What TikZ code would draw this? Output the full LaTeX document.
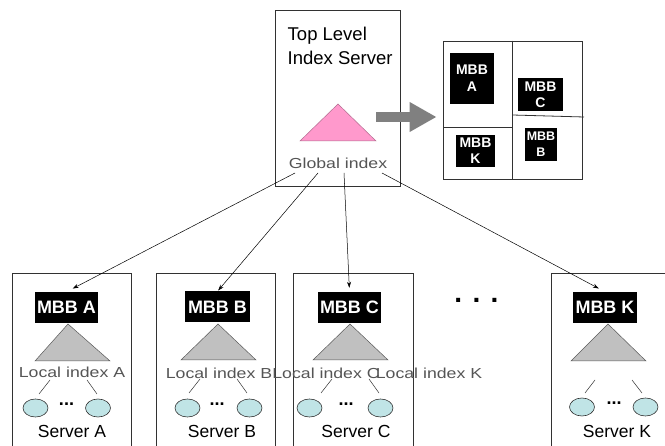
\documentclass[tikz,border=0pt]{standalone}
\usepackage{fontspec}
\setmainfont{Liberation Sans}
\newfontfamily\gulwide[FakeStretch=1.22]{Liberation Sans}
\usetikzlibrary{arrows.meta,shapes.geometric}
\definecolor{boxline}{RGB}{50,50,50}
\definecolor{pinkfill}{RGB}{255,153,204}
\definecolor{trigray}{RGB}{192,192,192}
\definecolor{cyanfill}{RGB}{192,228,230}
\definecolor{labelgray}{RGB}{85,85,85}
\definecolor{bigarrow}{RGB}{128,128,128}
\begin{document}
\begin{tikzpicture}[x=1pt,y=-1pt,
  frame/.style={draw=boxline, line width=0.8pt, inner sep=0pt},
  mbb/.style={fill=black, text=white, font=\fontsize{18}{20}\selectfont\bfseries, inner sep=0pt, minimum height=31pt},
  mbbsmall/.style={fill=black, text=white, inner sep=0pt, align=center},
  leaf/.style={ellipse, draw=boxline, line width=0.6pt, fill=cyanfill, minimum width=25pt, minimum height=18pt, inner sep=0pt},
  idxlabel/.style={text=labelgray, font=\gulwide\fontsize{14.5}{16}\selectfont, inner sep=0pt},
  srvlabel/.style={font=\fontsize{17.5}{20}\selectfont, inner sep=0pt},
  fewdots/.style={font=\fontsize{18}{20}\selectfont\bfseries, inner sep=0pt},
  link/.style={draw=black, line width=0.5pt, -{Stealth[length=6pt,width=4pt]}},
  twig/.style={draw=boxline, line width=0.5pt},
  tri/.style={draw=gray!70!black, line width=0.5pt, fill=trigray},
]
\useasboundingbox (0,0) rectangle (665,446);
\fill[white] (0,0) rectangle (665,446);

% ---------- top level index server ----------
\node[frame, minimum width=125pt, minimum height=176pt] (top) at (337.5,98) {};
\node[anchor=north west, align=left, inner sep=0pt, font=\fontsize{18.5}{24}\selectfont] (toptitle) at (287.5,26.5) {Top Level\\Index Server};
\draw[draw=pinkfill!70!black, line width=0.5pt, fill=pinkfill] (338,104) -- (376,141) -- (300,141) -- cycle;
\node[idxlabel] (glabel) at (338,163) {Global index};
\coordinate (g1) at (295,173);
\coordinate (g2) at (318,173);
\coordinate (g3) at (344,173);
\coordinate (g4) at (382,173);

% ---------- MBB layout box ----------
\node[frame, minimum width=139pt, minimum height=138pt] (rbox) at (512.5,110) {};
\draw[boxline, line width=0.8pt] (rbox.north) -- (rbox.south);
\draw[boxline, line width=0.8pt] (443,127) -- (512.5,127);
\draw[boxline, line width=0.8pt] (512.5,115) -- (584,117);
\node[mbbsmall, minimum width=44pt, minimum height=51pt, font=\fontsize{14}{17}\selectfont\bfseries] (rA) at (472,78.5) {MBB\\A};
\node[mbbsmall, minimum width=45pt, minimum height=33pt, font=\fontsize{14}{16}\selectfont\bfseries] (rC) at (540.5,94.5) {MBB\\C};
\node[mbbsmall, minimum width=39pt, minimum height=32pt, font=\fontsize{14}{16}\selectfont\bfseries] (rK) at (475.5,151) {MBB\\K};
\node[mbbsmall, minimum width=32pt, minimum height=33pt, font=\fontsize{12.5}{16}\selectfont\bfseries] (rB) at (541,144.5) {MBB\\B};

% big gray arrow
\coordinate (ga) at (376,117);
\draw[bigarrow, line width=10pt, -{Triangle[length=27pt,width=28pt]}, shorten >=6pt] (ga) -- (rbox.west |- ga);

% ---------- server A ----------
\node[frame, minimum width=119pt, minimum height=207pt] (srvA) at (71.5,376.5) {};
\node[mbb, minimum width=63pt] (mA) at (66.5,307.5) {MBB A};
\draw[tri] (68,324) -- (110,361) -- (35,361) -- cycle;
\node[idxlabel] (lA) at (72,372) {Local index A};
\node[leaf] (eA1) at (35.5,408) {};
\node[leaf] (eA2) at (98,408) {};
\node[fewdots] (dA) at (66.5,404) {...};
\draw[twig] (50,380) -- (39,394);
\draw[twig] (87,380) -- (97,394);
\node[srvlabel] (sA) at (72,431) {Server A};

% ---------- server B ----------
\node[frame, minimum width=119pt, minimum height=207pt] (srvB) at (215.5,376.5) {};
\node[mbb, minimum width=65pt] (mB) at (217.5,307) {MBB B};
\draw[tri] (218,324) -- (256,360) -- (181,360) -- cycle;
\node[idxlabel] (lB) at (219,373) {Local index B};
\node[leaf] (eB1) at (187.5,408) {};
\node[leaf] (eB2) at (249.5,408) {};
\node[fewdots] (dB) at (217,404) {...};
\draw[twig] (200,379) -- (189,393);
\draw[twig] (237,379) -- (247,393);
\node[srvlabel] (sB) at (222,431) {Server B};

% ---------- server C ----------
\node[frame, minimum width=120pt, minimum height=207pt] (srvC) at (353,376.5) {};
\node[mbb, minimum width=63pt] (mC) at (349.5,307.5) {MBB C};
\draw[tri] (350,324) -- (388,360) -- (313,360) -- cycle;
\node[idxlabel] (lC) at (326,373) {Local index C};
\node[leaf] (eC1) at (309.5,408) {};
\node[leaf] (eC2) at (380.5,408) {};
\node[fewdots] (dC) at (346,404) {...};
\draw[twig] (332,379) -- (321,393);
\draw[twig] (369,379) -- (379,393);
\node[srvlabel] (sC) at (356,431) {Server C};

% label of K placed in the gap
\node[idxlabel] (lK) at (429,373) {Local index K};

% big dots between C and K
\node[inner sep=0pt, font=\fontsize{28}{30}\selectfont\bfseries] (manydots) at (476.5,300) {. . .};

% ---------- server K ----------
\node[frame, minimum width=149pt, minimum height=207pt] (srvK) at (625.5,376.5) {};
\node[mbb, minimum width=64pt] (mK) at (605,307.5) {MBB K};
\draw[tri] (608,324) -- (646,361) -- (571,361) -- cycle;
\node[leaf] (eK1) at (582,407) {};
\node[leaf] (eK2) at (645.5,407) {};
\node[fewdots] (dK) at (614,403) {...};
\draw[twig] (595,380) -- (585,393);
\draw[twig] (632,380) -- (642,393);
\node[srvlabel] (sK) at (617,431) {Server K};

% ---------- connectors ----------
\draw[link, shorten >=7pt] (g1) -- (mA.north);
\draw[link, shorten >=1pt] (g2) -- (mB.north);
\draw[link, shorten >=4pt] (g3) -- (mC.north);
\draw[link, shorten >=7pt] (g4) -- (mK.north);
\end{tikzpicture}
\end{document}
